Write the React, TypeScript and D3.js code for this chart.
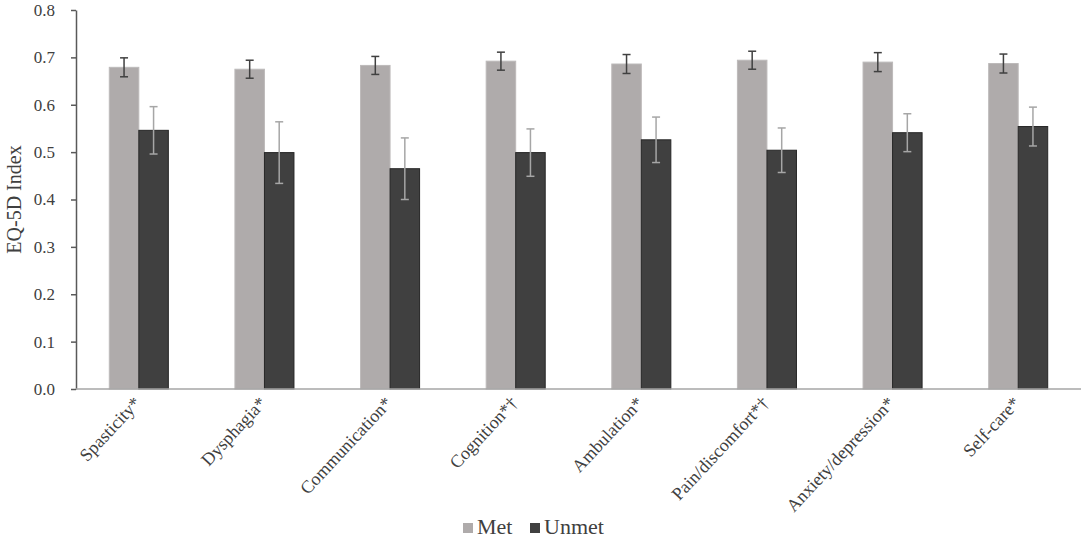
import React, { useEffect, useRef } from 'react';
import * as d3 from 'd3';

const categories = [
  'Spasticity*', 'Dysphagia*', 'Communication*', 'Cognition*†',
  'Ambulation*', 'Pain/discomfort*†', 'Anxiety/depression*', 'Self-care*'
];
const metValues = [0.679, 0.675, 0.683, 0.692, 0.686, 0.694, 0.690, 0.687];
const metErrors = [0.020, 0.019, 0.019, 0.019, 0.020, 0.019, 0.020, 0.020];
const unmetValues = [0.546, 0.499, 0.465, 0.499, 0.526, 0.504, 0.541, 0.554];
const unmetErrors = [0.050, 0.065, 0.065, 0.050, 0.048, 0.047, 0.040, 0.041];
const yTicks = [0, 0.1, 0.2, 0.3, 0.4, 0.5, 0.6, 0.7, 0.8];
const seriesNames = ['Met', 'Unmet'];

const App = () => {
  const ref = useRef<SVGSVGElement | null>(null);

  useEffect(() => {
    const W = 1084, H = 538;
    const margin = { top: 10, right: 3, bottom: 149, left: 76 };
    const svg = d3.select(ref.current);
    svg.selectAll('*').remove();

    const font = '"Liberation Serif", "Times New Roman", serif';
    const textColor = '#404040';
    const colors = { Met: '#afabab', Unmet: '#404040' };

    const x = d3.scaleBand<string>()
      .domain(categories)
      .range([margin.left, W - margin.right])
      .paddingInner(0.53)
      .paddingOuter(0.265);
    const x1 = d3.scaleBand<string>()
      .domain(seriesNames)
      .range([0, x.bandwidth()]);
    const y = d3.scaleLinear().domain([0, 0.8]).range([H - margin.bottom, margin.top]);

    const data = categories.map((c, i) => ({
      cat: c,
      vals: [
        { key: 'Met', v: metValues[i], e: metErrors[i] },
        { key: 'Unmet', v: unmetValues[i], e: unmetErrors[i] }
      ]
    }));

    // bars
    const groups = svg.append('g').selectAll('g')
      .data(data)
      .enter()
      .append('g')
      .attr('transform', d => `translate(${x(d.cat)},0)`);

    groups.selectAll('rect')
      .data(d => d.vals)
      .enter()
      .append('rect')
      .attr('x', d => x1(d.key)!)
      .attr('y', d => y(d.v))
      .attr('width', x1.bandwidth())
      .attr('height', d => y(0) - y(d.v))
      .attr('fill', d => colors[d.key])
      .attr('stroke', d => (d.key === 'Met' ? '#bdbaba' : '#262626'))
      .attr('stroke-width', 1);

    // error bars
    const err = groups.selectAll('g.err')
      .data(d => d.vals)
      .enter()
      .append('g')
      .attr('class', 'err')
      .attr('stroke', d => (d.key === 'Met' ? '#404040' : '#a6a6a6'))
      .attr('stroke-width', 1.5);
    const cx = d => x1(d.key)! + x1.bandwidth() / 2;
    err.append('line')
      .attr('x1', cx).attr('x2', cx)
      .attr('y1', d => y(d.v + d.e)).attr('y2', d => y(d.v - d.e));
    err.append('line')
      .attr('x1', d => cx(d) - 4).attr('x2', d => cx(d) + 4)
      .attr('y1', d => y(d.v + d.e)).attr('y2', d => y(d.v + d.e));
    err.append('line')
      .attr('x1', d => cx(d) - 4).attr('x2', d => cx(d) + 4)
      .attr('y1', d => y(d.v - d.e)).attr('y2', d => y(d.v - d.e));

    // y axis
    const yAxis = svg.append('g')
      .attr('transform', `translate(${margin.left},0)`)
      .call(d3.axisLeft(y).tickValues(yTicks).tickFormat(d3.format('.1f')).tickSize(5).tickSizeOuter(0).tickPadding(16));
    yAxis.attr('font-family', font);
    yAxis.select('.domain').attr('stroke', '#595959').attr('stroke-width', 1.5);
    yAxis.selectAll('.tick line').attr('stroke', '#595959').attr('stroke-width', 1.5);
    yAxis.selectAll('.tick text')
      .attr('font-family', font).attr('font-size', 17).attr('fill', textColor);

    // x axis line
    svg.append('line')
      .attr('x1', margin.left).attr('x2', W - margin.right)
      .attr('y1', y(0)).attr('y2', y(0))
      .attr('stroke', '#a6a6a6').attr('stroke-width', 1.5);

    // category labels
    svg.append('g').selectAll('text')
      .data(categories)
      .enter()
      .append('text')
      .attr('transform', d => `translate(${x(d)! + x.bandwidth() / 2 + 3},${y(0) + 15}) rotate(-47)`)
      .attr('text-anchor', 'end')
      .attr('font-family', font)
      .attr('font-size', 18)
      .attr('fill', textColor)
      .text(d => d);

    // y title
    svg.append('text')
      .attr('transform', `translate(21,${(y(0) + y(0.8)) / 2}) rotate(-90)`)
      .attr('text-anchor', 'middle')
      .attr('font-family', font)
      .attr('font-size', 20)
      .attr('fill', textColor)
      .text('EQ-5D Index');

    // legend
    const legendItems = [
      { key: 'Met', x: 463 },
      { key: 'Unmet', x: 530 }
    ];
    const lg = svg.append('g').selectAll('g')
      .data(legendItems)
      .enter()
      .append('g')
      .attr('transform', d => `translate(${d.x},523)`);
    lg.append('rect')
      .attr('width', 10).attr('height', 10)
      .attr('fill', d => colors[d.key]);
    lg.append('text')
      .attr('x', 14).attr('y', 11)
      .attr('font-family', font)
      .attr('font-size', 22)
      .attr('fill', textColor)
      .text(d => d.key);
  }, []);

  return (
    <svg
      ref={ref}
      width={1084}
      height={538}
      style={{ position: 'absolute', left: 0, top: 0, background: '#fff' }}
    />
  );
};

export default App;
